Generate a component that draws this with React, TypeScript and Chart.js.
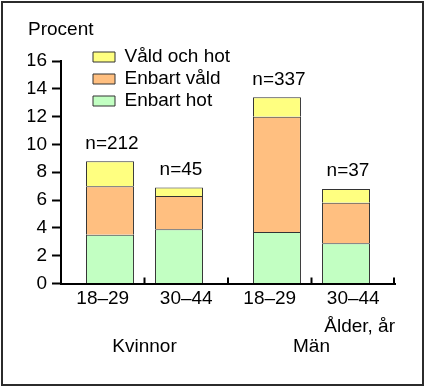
import React, { useEffect, useRef } from 'react';
import { Chart, registerables } from 'chart.js';

Chart.register(...registerables);

// ---------- data ----------
const ageGroups = ['18–29', '30–44', '18–29', '30–44'];
const sexGroups = ['Kvinnor', 'Män'];
const enbartHot = [3.5, 3.9, 3.7, 2.9];
const enbartVald = [3.5, 2.4, 8.3, 2.9];
const valdOchHot = [1.8, 0.6, 1.4, 1.0];
const sampleSizes = ['n=212', 'n=45', 'n=337', 'n=37'];
const seriesLabels = ['Enbart hot', 'Enbart våld', 'Våld och hot'];
const yMin = 0;
const yMax = 16;
const yStep = 2;
const yTitle = 'Procent';
const xTitle = 'Ålder, år';

// ---------- style / layout ----------
const seriesColors = ['#C2FFC2', '#FFBF80', '#FFFF80'];
const pairSide = ['R', 'L', 'R', 'L']; // which half of its slot each bar sits in
const FONT = "'Liberation Sans', Arial, sans-serif";
const FS = 19;
const INK = '#000';

const seriesValues = [enbartHot, enbartVald, valdOchHot];

const legendPlacer = {
  id: 'legendPlacer',
  afterLayout(chart: any) {
    const lg = chart.legend;
    const ca = chart.chartArea;
    if (!lg) return;
    lg.left = ca.left + 29;
    lg.top = ca.top - 16.5;
    lg.right = lg.left + lg.width;
    lg.bottom = ca.bottom;
  },
};

const sampleSizeLabels = {
  id: 'sampleSizeLabels',
  afterDatasetsDraw(chart: any) {
    const ctx = chart.ctx;
    ctx.save();
    ctx.font = `${FS}px ${FONT}`;
    ctx.fillStyle = INK;
    ctx.textAlign = 'center';
    ctx.textBaseline = 'alphabetic';
    sampleSizes.forEach((txt, i) => {
      const dsIndex = chart.data.datasets.findIndex(
        (d: any) => d.stack === pairSide[i] && d.label === seriesLabels[2]
      );
      const el = chart.getDatasetMeta(dsIndex).data[i];
      if (el) ctx.fillText(txt, el.x + 2, el.y - 12.5);
    });
    ctx.restore();
  },
};

const axisTicksUp = {
  id: 'axisTicksUp',
  afterDraw(chart: any) {
    const xs = chart.scales.x;
    const { bottom, right } = chart.chartArea;
    const ctx = chart.ctx;
    ctx.save();
    ctx.strokeStyle = INK;
    ctx.lineWidth = 2;
    for (let i = 0; i < ageGroups.length; i++) {
      const x =
        i < ageGroups.length - 1
          ? (xs.getPixelForValue(i) + xs.getPixelForValue(i + 1)) / 2
          : right - 1;
      ctx.beginPath();
      ctx.moveTo(x, bottom);
      ctx.lineTo(x, bottom - 6);
      ctx.stroke();
    }
    ctx.restore();
  },
};

export default function App() {
  const ref = useRef<HTMLCanvasElement | null>(null);

  useEffect(() => {
    if (!ref.current) return;
    const datasets: any[] = [];
    seriesLabels.forEach((label, s) => {
      ['L', 'R'].forEach((side) => {
        datasets.push({
          label,
          data: seriesValues[s].map((v, i) => (pairSide[i] === side ? v : null)),
          stack: side,
          xAxisID: 'x',
          yAxisID: 'y',
          backgroundColor: seriesColors[s],
          borderColor: '#333',
          borderWidth: 1,
          categoryPercentage: 0.347,
          barPercentage: 3.31,
        });
      });
    });

    const font = { family: FONT, size: FS, weight: 'normal' };

    const chart = new Chart(ref.current, {
      type: 'bar',
      data: { labels: ageGroups, datasets },
      options: {
        responsive: false,
        animation: false,
        events: [],
        font,
        color: INK,
        layout: { padding: { left: 28, right: 30, top: 0, bottom: 32 } },
        plugins: {
          tooltip: { enabled: false },
          title: {
            display: true,
            text: yTitle,
            align: 'start',
            color: INK,
            font,
            padding: { top: 18.6, bottom: 19.6 },
          },
          legend: {
            display: true,
            position: 'chartArea',
            align: 'start',
            reverse: true,
            labels: {
              color: INK,
              font,
              boxWidth: 22,
              boxHeight: 10,
              padding: 3,
              filter: (item: any) => item.datasetIndex % 2 === 0,
            },
          },
        },
        scales: {
          x: {
            type: 'category',
            position: 'bottom',
            offset: true,
            grid: { display: false, drawTicks: false },
            border: { display: true, color: INK, width: 2 },
            ticks: { color: INK, font, padding: 3.5, maxRotation: 0 },
            title: {
              display: true,
              text: xTitle,
              align: 'end',
              color: INK,
              font,
              padding: { top: 1.7, bottom: 0 },
            },
          },
          x2: {
            type: 'category',
            position: 'bottom',
            axis: 'x',
            weight: 1,
            labels: sexGroups,
            offset: true,
            grid: { display: false, drawTicks: false },
            border: { display: false },
            ticks: { color: INK, font, padding: -2.8, maxRotation: 0 },
          },
          y: {
            type: 'linear',
            stacked: true,
            min: yMin,
            max: yMax,
            afterFit: (scale: any) => {
              scale.width = 33;
            },
            grid: {
              drawOnChartArea: false,
              drawTicks: true,
              tickLength: 9,
              tickWidth: 2,
              tickColor: INK,
            },
            border: { display: true, color: INK, width: 2 },
            ticks: { stepSize: yStep, color: INK, font, padding: 5 },
          },
        },
      } as any,
      plugins: [legendPlacer, sampleSizeLabels, axisTicksUp],
    });
    return () => chart.destroy();
  }, []);

  return (
    <div style={{ position: 'absolute', left: 0, top: 0, width: 425, height: 387, background: '#fff' }}>
      <div
        style={{
          position: 'absolute',
          left: 1,
          top: 1,
          width: 423,
          height: 385,
          boxSizing: 'border-box',
          border: '2px solid #2b2b2b',
        }}
      />
      <canvas ref={ref} width={425} height={387} style={{ position: 'absolute', left: 0, top: 0, display: 'block' }} />
    </div>
  );
}
